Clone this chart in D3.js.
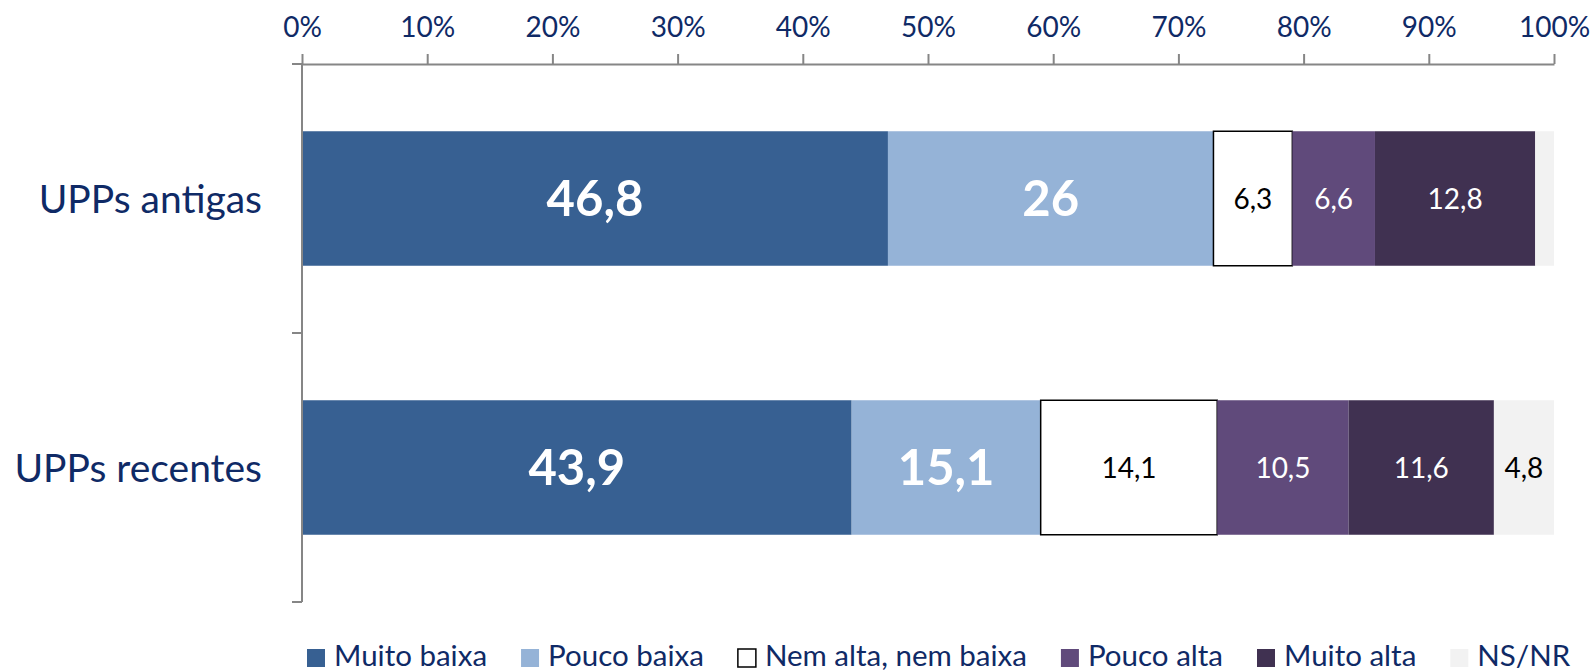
<!DOCTYPE html>
<html>
<head>
<meta charset="utf-8">
<script src="https://cdn.jsdelivr.net/npm/d3@7"></script>
<style>
  body { margin: 0; background: #fff; }
  text { font-family: Lato, "Open Sans", sans-serif; }
</style>
</head>
<body>
<div id="chart"></div>
<script>
const categories = ["UPPs antigas", "UPPs recentes"];
const seriesNames = ["Muito baixa", "Pouco baixa", "Nem alta, nem baixa", "Pouco alta", "Muito alta", "NS/NR"];
const antigas = [46.8, 26, 6.3, 6.6, 12.8, 1.5];
const recentes = [43.9, 15.1, 14.1, 10.5, 11.6, 4.8];
const shownLabels = [
  ["46,8", "26", "6,3", "6,6", "12,8", ""],
  ["43,9", "15,1", "14,1", "10,5", "11,6", "4,8"]
];
const tickValues = [0, 10, 20, 30, 40, 50, 60, 70, 80, 90, 100];

const colors = ["#376092", "#95b3d7", "#ffffff", "#604a7b", "#403151", "#f2f2f2"];
const labelColors = ["#fff", "#fff", "#000", "#fff", "#fff", "#000"];
const bigLabel = [true, true, false, false, false, false];
const navy = "#0f2a66";

const W = 1594, H = 672;
const margin = { top: 64, right: 40, bottom: 70, left: 302 };

const svg = d3.select("#chart").append("svg")
  .attr("width", W).attr("height", H);

const x = d3.scaleLinear().domain([0, 100]).range([margin.left, 1554]);
const y = d3.scaleBand().domain(categories).range([margin.top, 602])
  .paddingInner(0.5).paddingOuter(0.25);

// stack the rows
const rows = [antigas, recentes].map((vals, i) => {
  let acc = 0;
  return vals.map((v, j) => {
    const seg = { cat: categories[i], s: j, x0: acc, x1: acc + v, label: shownLabels[i][j] };
    acc += v;
    return seg;
  });
});

const segs = rows.flat();

svg.append("g").selectAll("rect")
  .data(segs)
  .join("rect")
  .attr("x", d => x(d.x0))
  .attr("y", d => y(d.cat))
  .attr("width", d => x(d.x1) - x(d.x0))
  .attr("height", y.bandwidth())
  .attr("fill", d => colors[d.s])
  .attr("stroke", d => d.s === 2 ? "#000" : "none")
  .attr("stroke-width", 1.5);

svg.append("g").selectAll("text")
  .data(segs.filter(d => d.label))
  .join("text")
  .attr("x", d => (x(d.x0) + x(d.x1)) / 2)
  .attr("y", d => y(d.cat) + y.bandwidth() / 2)
  .attr("dy", "0.36em")
  .attr("text-anchor", "middle")
  .attr("fill", d => labelColors[d.s])
  .style("font-size", d => bigLabel[d.s] ? "49px" : "28px")
  .style("font-weight", d => bigLabel[d.s] ? "bold" : "normal")
  .text(d => d.label);

// top axis
const xAxis = svg.append("g")
  .attr("transform", `translate(0,${margin.top})`)
  .call(d3.axisTop(x).tickValues(tickValues).tickFormat(d => d + "%").tickSize(10).tickSizeOuter(0).tickPadding(17));
xAxis.select(".domain").attr("stroke", "#868686").attr("stroke-width", 2);
xAxis.selectAll(".tick line").attr("stroke", "#868686").attr("stroke-width", 2);
xAxis.selectAll(".tick text")
  .attr("fill", navy)
  .style("font-size", "28px")
  .style("font-family", "Lato, sans-serif");

// left axis with ticks between categories
const yAxis = svg.append("g");
yAxis.append("line")
  .attr("x1", margin.left).attr("x2", margin.left)
  .attr("y1", margin.top - 1).attr("y2", 602)
  .attr("stroke", "#868686").attr("stroke-width", 2);
const boundaries = [margin.top, (y(categories[0]) + y.bandwidth() + y(categories[1])) / 2, 602];
yAxis.selectAll(".bt")
  .data(boundaries)
  .join("line")
  .attr("x1", margin.left - 10).attr("x2", margin.left)
  .attr("y1", d => d).attr("y2", d => d)
  .attr("stroke", "#868686").attr("stroke-width", 2);

svg.append("g").selectAll("text")
  .data(categories)
  .join("text")
  .attr("x", 262)
  .attr("y", d => y(d) + y.bandwidth() / 2)
  .attr("dy", "0.36em")
  .attr("text-anchor", "end")
  .attr("fill", navy)
  .style("font-size", "39px")
  .text(d => d);

// legend
const legend = svg.append("g").attr("transform", "translate(307,0)");
let lx = 0;
seriesNames.forEach((name, i) => {
  const g = legend.append("g").attr("transform", `translate(${lx},0)`);
  g.append("rect")
    .attr("x", 0).attr("y", 649).attr("width", 18).attr("height", 18)
    .attr("fill", colors[i])
    .attr("stroke", i === 2 ? "#000" : "none")
    .attr("stroke-width", 1.5);
  const t = g.append("text")
    .attr("x", 27).attr("y", 666)
    .attr("fill", navy)
    .style("font-size", "29.5px")
    .text(name);
  lx += 27 + t.node().getComputedTextLength() + 34;
});
</script>
</body>
</html>
